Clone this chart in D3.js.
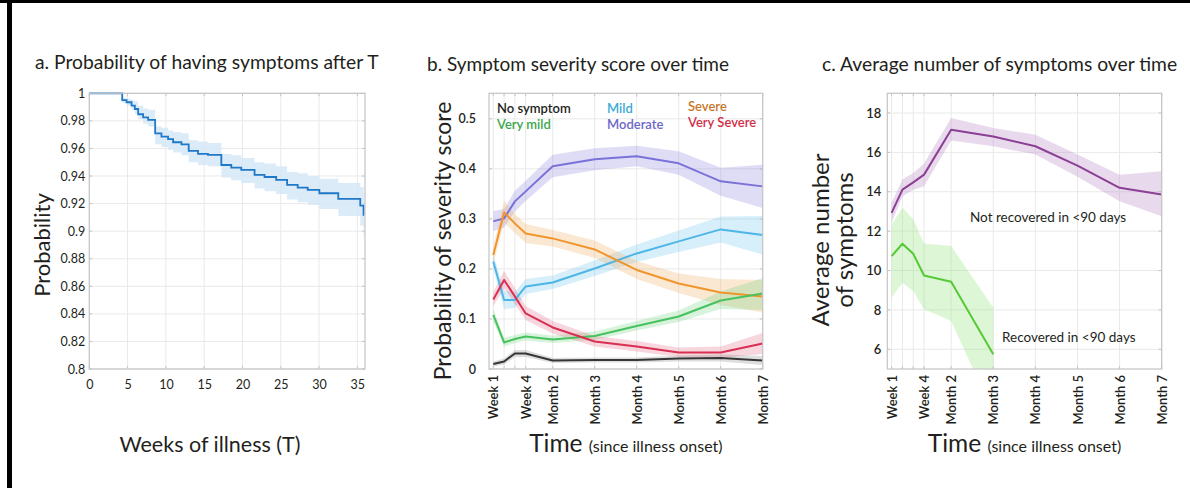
<!DOCTYPE html>
<html>
<head>
<meta charset="utf-8">
<script src="https://cdn.jsdelivr.net/npm/d3@7"></script>
<style>
  html, body { margin: 0; padding: 0; background: #fff; }
  svg { display: block; font-family: Lato, "Open Sans", sans-serif; }
</style>
</head>
<body>
<svg id="fig" width="1190" height="488"></svg>
<script>
// ---- a. Kaplan-Meier style curve (weeks of illness vs probability) ----
const weeksA = [0, 4.3, 4.87, 5.52, 5.95, 6.38, 7.03, 7.68, 8.6, 9.42, 10.29, 10.94, 12.03, 12.98, 14.2, 15.5,
  17.24, 18.54, 19.84, 21.58, 22.88, 24.4, 25.83, 27.21, 28.52, 30.04, 32.51, 35.38, 35.81, 35.9];
const probA = [1, 0.9951, 0.9935, 0.991, 0.9886, 0.9848, 0.9826, 0.9807, 0.971, 0.9686, 0.9667, 0.9645, 0.963, 0.9582, 0.956, 0.9553,
  0.948, 0.9461, 0.9444, 0.9408, 0.9393, 0.9372, 0.9335, 0.9316, 0.9299, 0.9275, 0.9234, 0.9185, 0.9118, 0.9118];
const probAHigh = [1, 0.9965, 0.996, 0.995, 0.994, 0.991, 0.989, 0.988, 0.976, 0.975, 0.973, 0.972, 0.971, 0.966, 0.965, 0.964,
  0.956, 0.955, 0.953, 0.950, 0.949, 0.947, 0.943, 0.942, 0.940, 0.938, 0.935, 0.932, 0.928, 0.928];
const probALow = [1, 0.993, 0.991, 0.988, 0.985, 0.981, 0.978, 0.976, 0.963, 0.961, 0.959, 0.957, 0.955, 0.950, 0.948, 0.947,
  0.939, 0.937, 0.935, 0.931, 0.929, 0.927, 0.923, 0.921, 0.919, 0.916, 0.911, 0.904, 0.896, 0.896];
const weekTicksA = [0, 5, 10, 15, 20, 25, 30, 35];
const probTicksA = [0.8, 0.82, 0.84, 0.86, 0.88, 0.9, 0.92, 0.94, 0.96, 0.98, 1];

// ---- shared time axis for panels b and c (days since onset) ----
const timeDays = [7, 14, 21, 28, 60, 90, 120, 150, 180, 210];
const timeTickDays = [7, 28, 60, 90, 120, 150, 180, 210];
const timeTickLabels = ["Week 1", "Week 4", "Month 2", "Month 3", "Month 4", "Month 5", "Month 6", "Month 7"];
const timeGridDays = [7, 14, 21, 28, 60, 90, 120, 150, 180, 210];

// ---- b. severity score probabilities ----
const severityNames = ["No symptom", "Very mild", "Mild", "Moderate", "Severe", "Very Severe"];
const noSymptom     = [0.010, 0.015, 0.031, 0.031, 0.017, 0.018, 0.018, 0.021, 0.022, 0.017];
const noSymptomLo   = [0.005, 0.009, 0.024, 0.024, 0.012, 0.013, 0.013, 0.015, 0.015, 0.008];
const noSymptomHi   = [0.015, 0.021, 0.038, 0.038, 0.022, 0.023, 0.023, 0.027, 0.029, 0.026];
const veryMild      = [0.108, 0.053, 0.060, 0.065, 0.059, 0.066, 0.086, 0.105, 0.137, 0.151];
const veryMildLo    = [0.095, 0.045, 0.052, 0.057, 0.052, 0.058, 0.077, 0.094, 0.120, 0.118];
const veryMildHi    = [0.121, 0.062, 0.068, 0.073, 0.067, 0.075, 0.096, 0.117, 0.155, 0.182];
const mild          = [0.215, 0.138, 0.138, 0.165, 0.173, 0.201, 0.231, 0.255, 0.279, 0.268];
const mildLo        = [0.200, 0.120, 0.122, 0.150, 0.160, 0.186, 0.214, 0.234, 0.253, 0.229];
const mildHi        = [0.230, 0.156, 0.154, 0.180, 0.187, 0.217, 0.249, 0.277, 0.305, 0.306];
const moderate      = [0.295, 0.301, 0.335, 0.355, 0.405, 0.419, 0.425, 0.411, 0.375, 0.365];
const moderateLo    = [0.276, 0.283, 0.315, 0.336, 0.383, 0.397, 0.405, 0.388, 0.346, 0.322];
const moderateHi    = [0.316, 0.320, 0.356, 0.376, 0.428, 0.441, 0.446, 0.435, 0.402, 0.408];
const severe        = [0.228, 0.313, 0.291, 0.271, 0.261, 0.239, 0.198, 0.171, 0.153, 0.145];
const severeLo      = [0.210, 0.292, 0.272, 0.252, 0.245, 0.222, 0.180, 0.152, 0.128, 0.113];
const severeHi      = [0.246, 0.336, 0.310, 0.290, 0.278, 0.257, 0.216, 0.191, 0.180, 0.178];
const verySevere    = [0.139, 0.178, 0.145, 0.111, 0.083, 0.055, 0.045, 0.033, 0.033, 0.051];
const verySevereLo  = [0.125, 0.162, 0.130, 0.098, 0.071, 0.045, 0.035, 0.024, 0.022, 0.030];
const verySevereHi  = [0.154, 0.196, 0.162, 0.126, 0.096, 0.066, 0.056, 0.043, 0.045, 0.072];
const severityTicks = [0, 0.1, 0.2, 0.3, 0.4, 0.5];

// ---- c. average number of symptoms ----
const notRecovered   = [12.93, 14.11, 14.48, 14.87, 17.15, 16.81, 16.31, 15.33, 14.20, 13.86];
const notRecoveredLo = [12.42, 13.77, 14.10, 14.28, 16.60, 16.31, 15.89, 14.76, 13.52, 12.76];
const notRecoveredHi = [13.44, 14.62, 14.95, 15.43, 17.75, 17.24, 16.90, 15.89, 14.87, 15.04];
const recovered      = [10.73, 11.36, 10.85, 9.75, 9.43, 5.75];
const recoveredLo    = [8.62, 9.38, 8.96, 8.03, 7.44, 2.73];
const recoveredHi    = [12.34, 13.19, 12.60, 11.37, 11.24, 8.12];
const countTicks = [6, 8, 10, 12, 14, 16, 18];

// ---------------------------------------------------------------------
const svg = d3.select("#fig");
const TXT = "#231f20";
const GRID = "#e9e9e9";
const BOX = "#c4c4c4";

// outer frame
svg.append("rect").attr("x", 0).attr("y", 0).attr("width", 1190).attr("height", 3).attr("fill", "#000");
svg.append("rect").attr("x", 7).attr("y", 0).attr("width", 5).attr("height", 488).attr("fill", "#000");

function frame(g, x, y, w, h) {
  g.append("rect").attr("x", x).attr("y", y).attr("width", w).attr("height", h)
    .attr("fill", "none").attr("stroke", BOX).attr("stroke-width", 1.2);
}
function vGrid(g, xs, top, bottom) {
  g.selectAll(null).data(xs).join("line")
    .attr("x1", d => d).attr("x2", d => d).attr("y1", top).attr("y2", bottom)
    .attr("stroke", GRID).attr("stroke-width", 1);
  // inward tick marks on top and bottom edges
  g.selectAll(null).data(xs).join("line")
    .attr("x1", d => d).attr("x2", d => d).attr("y1", bottom).attr("y2", bottom - 3)
    .attr("stroke", BOX).attr("stroke-width", 1);
  g.selectAll(null).data(xs).join("line")
    .attr("x1", d => d).attr("x2", d => d).attr("y1", top).attr("y2", top + 3)
    .attr("stroke", BOX).attr("stroke-width", 1);
}
function hGrid(g, ys, left, right) {
  g.selectAll(null).data(ys).join("line")
    .attr("x1", left).attr("x2", right).attr("y1", d => d).attr("y2", d => d)
    .attr("stroke", GRID).attr("stroke-width", 1);
  g.selectAll(null).data(ys).join("line")
    .attr("x1", left).attr("x2", left + 3).attr("y1", d => d).attr("y2", d => d)
    .attr("stroke", BOX).attr("stroke-width", 1);
  g.selectAll(null).data(ys).join("line")
    .attr("x1", right).attr("x2", right - 3).attr("y1", d => d).attr("y2", d => d)
    .attr("stroke", BOX).attr("stroke-width", 1);
}
function fmt(v) { return String(+v.toFixed(2)); }

const TOP = 93.3, BOTTOM = 369;

// ===================== panel a =====================
{
  const L = 89.3, R = 365;
  const x = d3.scaleLinear().domain([0, 36]).range([L, R]);
  const y = d3.scaleLinear().domain([0.8, 1]).range([BOTTOM, TOP]);
  const g = svg.append("g");
  vGrid(g, weekTicksA.map(x), TOP, BOTTOM);
  hGrid(g, probTicksA.map(y), L, R);

  const rows = weeksA.map((w, i) => ({ w, p: probA[i], lo: probALow[i], hi: probAHigh[i] }));
  g.append("path").datum(rows)
    .attr("d", d3.area().curve(d3.curveStepAfter).x(d => x(d.w)).y0(d => y(d.lo)).y1(d => y(d.hi)))
    .attr("fill", "#d3e6f6").attr("opacity", 0.8);
  g.append("path").datum(rows)
    .attr("d", d3.line().curve(d3.curveStepAfter).x(d => x(d.w)).y(d => y(d.p)))
    .attr("fill", "none").attr("stroke", "#1f78c8").attr("stroke-width", 1.8);
  frame(g, L, TOP, R - L, BOTTOM - TOP);

  const ax = d3.axisBottom(x).tickValues(weekTicksA).tickSize(0).tickPadding(11);
  g.append("g").attr("transform", `translate(0,${BOTTOM})`).call(ax)
    .call(s => s.select(".domain").remove())
    .selectAll("text").attr("font-size", 12.5).attr("fill", TXT).attr("font-family", "Lato");
  const ay = d3.axisLeft(y).tickValues(probTicksA).tickFormat(fmt).tickSize(0).tickPadding(4);
  g.append("g").attr("transform", `translate(${L},0)`).call(ay)
    .call(s => s.select(".domain").remove())
    .selectAll("text").attr("font-size", 12.5).attr("fill", TXT).attr("font-family", "Lato");

  svg.append("text").attr("x", 35).attr("y", 69).attr("font-size", 19.3).attr("fill", TXT)
    .text("a. Probability of having symptoms after T");
  svg.append("text").attr("transform", "translate(50,245) rotate(-90)").attr("text-anchor", "middle")
    .attr("font-size", 22).attr("fill", TXT).text("Probability");
  svg.append("text").attr("x", 210).attr("y", 452).attr("text-anchor", "middle")
    .attr("font-size", 21.5).attr("fill", TXT).text("Weeks of illness (T)");
}

// shared builders for the time axes of b and c
function timeScale(L, R) {
  const w = R - L;
  return d3.scaleLinear()
    .domain([4.2, 7, 28, 60, 210])
    .range([L, L + w * 0.0157, L + w * 0.134, L + w * 0.2327, R]);
}
function timeAxis(g, x) {
  const ax = d3.axisBottom(x).tickValues(timeTickDays).tickFormat((d, i) => timeTickLabels[i]).tickSize(0);
  g.append("g").attr("transform", `translate(0,${BOTTOM})`).call(ax)
    .call(s => s.select(".domain").remove())
    .selectAll("text")
    .attr("transform", "rotate(-90)")
    .attr("text-anchor", "end").attr("x", -6).attr("y", 0).attr("dy", "0.35em")
    .attr("font-size", 13).attr("font-weight", 600).attr("fill", TXT).attr("font-family", "Lato");
}
function timeTitle(cx) {
  const t = svg.append("text").attr("x", cx).attr("y", 452).attr("text-anchor", "middle").attr("fill", TXT);
  t.append("tspan").attr("font-size", 24.5).text("Time ");
  t.append("tspan").attr("font-size", 16).text("(since illness onset)");
}
function bandRows(g, x, y, vals, lo, hi, bandColor, bandOpacity) {
  const rows = vals.map((v, i) => ({ t: timeDays[i], v, lo: lo[i], hi: hi[i] }));
  g.append("path").datum(rows)
    .attr("d", d3.area().x(d => x(d.t)).y0(d => y(d.lo)).y1(d => y(d.hi)))
    .attr("fill", bandColor).attr("fill-opacity", bandOpacity);
  return rows;
}
function drawLine(g, x, y, rows, color, width) {
  g.append("path").datum(rows)
    .attr("d", d3.line().x(d => x(d.t)).y(d => y(d.v)))
    .attr("fill", "none").attr("stroke", color).attr("stroke-width", width).attr("stroke-linejoin", "round");
}

// ===================== panel b =====================
{
  const L = 489, R = 762.7;
  const x = timeScale(L, R);
  const y = d3.scaleLinear().domain([0, 0.551]).range([BOTTOM, TOP]);
  const g = svg.append("g");
  vGrid(g, timeGridDays.map(x), TOP, BOTTOM);
  hGrid(g, severityTicks.map(y), L, R);

  const series = [
    { v: moderate, lo: moderateLo, hi: moderateHi, c: "#7a72d8", b: "#8c85dd" },
    { v: mild, lo: mildLo, hi: mildHi, c: "#4db6e6", b: "#6cc5ee" },
    { v: severe, lo: severeLo, hi: severeHi, c: "#f0952c", b: "#f2ab5e" },
    { v: veryMild, lo: veryMildLo, hi: veryMildHi, c: "#48c25e", b: "#6fd381" },
    { v: verySevere, lo: verySevereLo, hi: verySevereHi, c: "#d92f53", b: "#e36b84" },
    { v: noSymptom, lo: noSymptomLo, hi: noSymptomHi, c: "#363636", b: "#8a8a8a" }
  ];
  const rowsList = series.map(s => bandRows(g, x, y, s.v, s.lo, s.hi, s.b, 0.28));
  series.forEach((s, i) => drawLine(g, x, y, rowsList[i], s.c, 2));
  frame(g, L, TOP, R - L, BOTTOM - TOP);

  const ay = d3.axisLeft(y).tickValues(severityTicks).tickFormat(fmt).tickSize(0).tickPadding(13);
  g.append("g").attr("transform", `translate(${L},0)`).call(ay)
    .call(s => s.select(".domain").remove())
    .selectAll("text").attr("font-size", 12.5).attr("font-weight", 600).attr("fill", TXT).attr("font-family", "Lato");
  timeAxis(g, x);

  // legend text in three columns
  const legend = [
    { name: severityNames[0], x: 497, y: 113, c: "#231f20" },
    { name: severityNames[1], x: 497, y: 128.5, c: "#3aa84c" },
    { name: severityNames[2], x: 607, y: 113, c: "#3aa9d4" },
    { name: severityNames[3], x: 607, y: 128.5, c: "#6d67c9" },
    { name: severityNames[4], x: 688, y: 111, c: "#c9782b" },
    { name: severityNames[5], x: 688, y: 126.5, c: "#d1304a" }
  ];
  g.selectAll(null).data(legend).join("text")
    .attr("x", d => d.x).attr("y", d => d.y).attr("fill", d => d.c)
    .attr("font-size", 13).attr("font-weight", 600).text(d => d.name);

  svg.append("text").attr("x", 427).attr("y", 71).attr("font-size", 19).attr("fill", TXT)
    .text("b. Symptom severity score over time");
  svg.append("text").attr("transform", "translate(451,241) rotate(-90)").attr("text-anchor", "middle")
    .attr("font-size", 23).attr("fill", TXT).text("Probability of severity score");
  timeTitle((L + R) / 2);
}

// ===================== panel c =====================
{
  const L = 887.3, R = 1161.7;
  const x = timeScale(L, R);
  const y = d3.scaleLinear().domain([5, 19]).range([BOTTOM, TOP]);
  const g = svg.append("g");
  vGrid(g, timeGridDays.map(x), TOP, BOTTOM);
  hGrid(g, countTicks.map(y), L, R);

  svg.append("clipPath").attr("id", "clipC").append("rect")
    .attr("x", L).attr("y", TOP).attr("width", R - L).attr("height", BOTTOM - TOP);
  const plot = g.append("g").attr("clip-path", "url(#clipC)");
  const rowsN = bandRows(plot, x, y, notRecovered, notRecoveredLo, notRecoveredHi, "#b98cc3", 0.32);
  const rowsR = bandRows(plot, x, y, recovered, recoveredLo, recoveredHi, "#9be58a", 0.35);
  drawLine(plot, x, y, rowsN, "#8b3f95", 2);
  drawLine(plot, x, y, rowsR, "#55c936", 2);
  frame(g, L, TOP, R - L, BOTTOM - TOP);

  const ay = d3.axisLeft(y).tickValues(countTicks).tickSize(0).tickPadding(6);
  g.append("g").attr("transform", `translate(${L},0)`).call(ay)
    .call(s => s.select(".domain").remove())
    .selectAll("text").attr("font-size", 13).attr("font-weight", 600).attr("fill", TXT).attr("font-family", "Lato");
  timeAxis(g, x);

  g.append("text").attr("x", 970).attr("y", 222).attr("font-size", 13.5).attr("fill", TXT)
    .text("Not recovered in <90 days");
  g.append("text").attr("x", 1002).attr("y", 342).attr("font-size", 13.5).attr("fill", TXT)
    .text("Recovered in <90 days");

  svg.append("text").attr("x", 822).attr("y", 71).attr("font-size", 19.3).attr("fill", TXT)
    .text("c. Average number of symptoms over time");
  const yl = svg.append("text").attr("transform", "translate(829,240) rotate(-90)").attr("text-anchor", "middle")
    .attr("font-size", 24).attr("fill", TXT);
  yl.append("tspan").attr("x", 0).attr("dy", 0).text("Average number");
  yl.append("tspan").attr("x", 0).attr("dy", 24).text("of symptoms");
  timeTitle((L + R) / 2);
}
</script>
</body>
</html>
